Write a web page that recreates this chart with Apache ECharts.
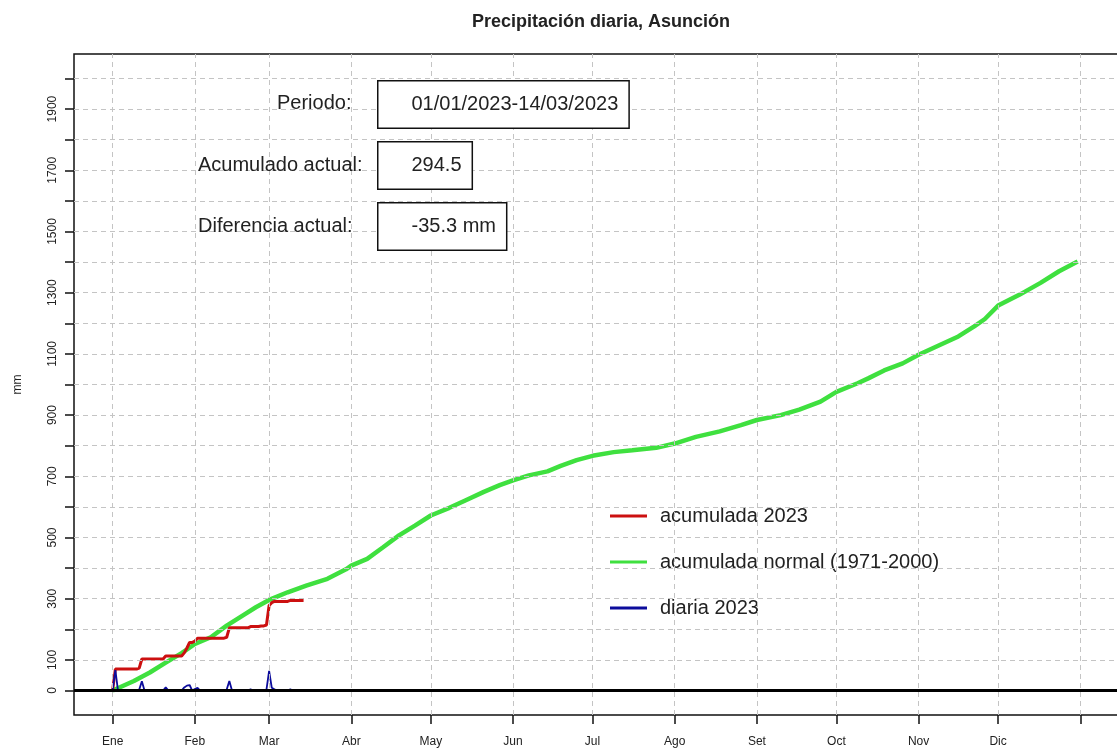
<!DOCTYPE html>
<html><head><meta charset="utf-8">
<script src="https://cdn.jsdelivr.net/npm/echarts@6/dist/echarts.min.js"></script>
<style>html,body{margin:0;padding:0;background:#fff}#c{width:1117px;height:750px}</style>
</head><body><div id="c"></div>
<script>
const chartTitle = 'Precipitación diaria, Asunción';
const monthLabels = ['Ene','Feb','Mar','Abr','May','Jun','Jul','Ago','Set','Oct','Nov','Dic'];
const monthStartDays = [1,32,60,91,121,152,182,213,244,274,305,335,366];
const yTickValues = [0,100,200,300,400,500,600,700,800,900,1000,1100,1200,1300,1400,1500,1600,1700,1800,1900,2000];
const yLabelValues = [0,100,300,500,700,900,1100,1300,1500,1700,1900];
const seriesNames = ['acumulada 2023','acumulada normal (1971-2000)','diaria 2023'];

// Normal accumulated (1971-2000): day of year, mm
const normalDays  = [1,9,15,21,27,32,38,44,50,55,60,67,74,82,89,91,97,103,109,115,121,128,134,141,147,152,158,165,170,176,182,190,197,206,213,221,230,238,244,253,260,268,274,282,286,292,299,305,313,320,326,330,335,343,351,358,365];
const normalAccum = [0,31,59,91,122,152,174,212,245,272,296,321,343,365,396,408,430,468,507,539,572,597,621,649,671,687,703,716,734,753,767,779,785,793,807,829,847,867,884,900,918,944,976,1004,1020,1046,1069,1097,1129,1157,1190,1214,1258,1293,1332,1370,1402];

// 2023, from 01/01 to 14/03 (one value per day)
const daily2023 = [3,67,0,0,0,0,0,0,0,0, 3,30,0,0,0,0,0,0,0,0, 10,0,0,0,0,0,0,10,16,18, 0,5,9,0,0,0,0,0,0,0, 0,0,0,3,31,0,0,0,0,0, 0,0,4,0,0,0,2,0,3,64, 9,4,0,0,0,0,0,3.5,0,0, 0,0,0];
const accum2023 = [3,70,70,70,70,70,70,70,70,70, 73,103,103,103,103,103,103,103,103,103, 113,113,113,113,113,113,113,123,139,157, 157,162,171,171,171,171,171,171,171,171, 171,171,171,174,205,205,205,205,205,205, 205,205,209,209,209,209,211,211,214,278, 287,291,291,291,291,291,291,294.5,294.5,294.5, 294.5,294.5,294.5];

const infoLabels = ['Periodo:','Acumulado actual:','Diferencia actual:'];
const infoValues = ['01/01/2023-14/03/2023','294.5','-35.3 mm'];

const FONT = '"Liberation Sans", Arial, sans-serif';
const chart = echarts.init(document.getElementById('c'), null, {renderer: 'canvas'});

const labelPos = [[277,104],[198,166],[198,227]];
const boxTop = [80,141,202];
const graphics = [];
infoLabels.forEach((t,i)=>{
  graphics.push({type:'text', left: labelPos[i][0], top: labelPos[i][1]-11, z: 20,
    style:{text:t, font:'20px '+FONT, fill:'#222'}});
  graphics.push({type:'text', left: 377, top: boxTop[i], z: 20,
    style:{text:infoValues[i], font:'20px '+FONT, fill:'#222', lineHeight:20,
      backgroundColor:'#fff', borderColor:'#111', borderWidth:1.5, padding:[13,10,13,33]}});
});

const option = {
  animation: false,
  backgroundColor: '#fff',
  title: {text: chartTitle, left: 467, top: 8,
    textStyle: {fontFamily: FONT, fontSize: 18, fontWeight: 'bold', color: '#222'}},
  grid: {left: 74, top: 54, width: 1045, height: 661, show: true, borderColor: '#111', borderWidth: 1.5,
    containLabel: false, outerBoundsMode: 'none'},
  legend: {data: seriesNames, orient: 'vertical', left: 605, top: 501, itemWidth: 37, itemHeight: 3, itemGap: 26,
    icon: 'rect',
    textStyle: {fontFamily: FONT, fontSize: 20, color: '#222', padding: [0,0,0,8]}},
  xAxis: {type: 'value', min: -13.6, max: 380.6,
    axisLine: {show: false, onZero: false},
    splitLine: {show: false},
    axisTick: {show: true, inside: false, length: 9, customValues: monthStartDays, lineStyle: {color: '#111', width: 1.5}},
    axisLabel: {customValues: monthStartDays.slice(0,12), margin: 21, fontFamily: FONT, fontSize: 12, color: '#222',
      formatter: v => monthLabels[monthStartDays.indexOf(v)] || ''}},
  yAxis: {type: 'value', min: -80, max: 2080,
    name: 'mm', nameLocation: 'middle', nameGap: 50, nameRotate: 90,
    nameTextStyle: {fontFamily: FONT, fontSize: 12, color: '#222'},
    axisLine: {show: false, onZero: false},
    splitLine: {show: false},
    axisTick: {show: true, inside: false, length: 9, customValues: yTickValues, lineStyle: {color: '#111', width: 1.5}},
    axisLabel: {customValues: yLabelValues, rotate: 90, margin: 15, fontFamily: FONT, fontSize: 12, color: '#222',
      formatter: v => String(v)}},
  graphic: graphics,
  series: [
    {name: 'grid', type: 'line', data: [], silent: true, z: 1, showSymbol: false,
      markLine: {silent: true, symbol: ['none','none'], label: {show: false}, animation: false,
        lineStyle: {type: [5,4], color: '#c4c4c4', width: 1},
        emphasis: {disabled: true},
        data: monthStartDays.map(d => ({xAxis: d})).concat(yTickValues.map(v => ({yAxis: v})))}},
    {name: seriesNames[1], type: 'line', z: 2, showSymbol: false, symbol: 'none',
      data: normalDays.map((d,i) => [d, normalAccum[i]]),
      itemStyle: {color: '#3fe03f'}, lineStyle: {color: '#3fe03f', width: 4.5}},
    {name: seriesNames[0], type: 'line', z: 3, showSymbol: false, symbol: 'none',
      data: accum2023.map((v,i) => [i+1, v]),
      itemStyle: {color: '#cc1010'}, lineStyle: {color: '#cc1010', width: 3}},
    {name: seriesNames[2], type: 'line', z: 4, showSymbol: false, symbol: 'none',
      data: daily2023.map((v,i) => [i+1, v]),
      itemStyle: {color: '#0c0c9c'}, lineStyle: {color: '#0c0c9c', width: 1.8}},
    {name: 'zero', type: 'line', data: [], silent: true, z: 5, showSymbol: false,
      markLine: {silent: true, symbol: ['none','none'], label: {show: false}, animation: false,
        lineStyle: {type: 'solid', color: '#000', width: 3},
        emphasis: {disabled: true},
        data: [{yAxis: 0}]}}
  ]
};
chart.setOption(option);
</script></body></html>
